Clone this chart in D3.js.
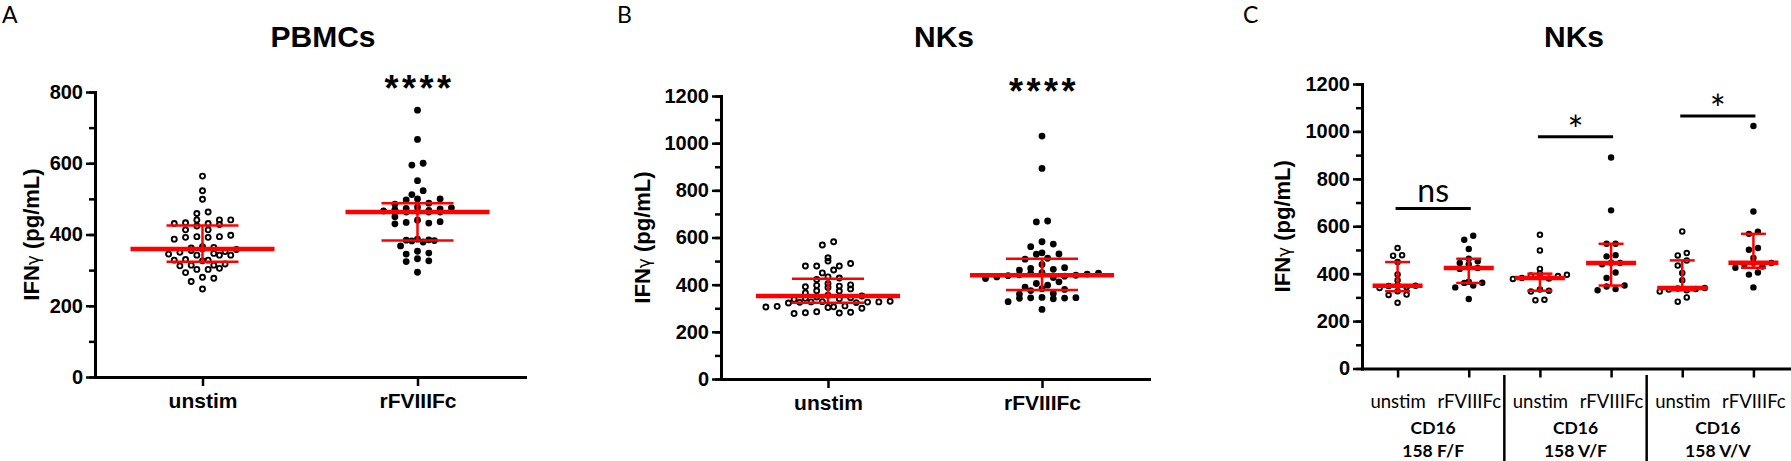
<!DOCTYPE html>
<html><head><meta charset="utf-8">
<script src="https://cdn.jsdelivr.net/npm/d3@7"></script>
<style>body{margin:0;background:#fff}svg{display:block}</style>
</head><body>
<svg id="chart" width="1791" height="461"></svg>
<script>
// ---------------- DATA ----------------
const conditions = ["unstim", "rFVIIIFc"];

// Panel A: PBMCs, IFNγ (pg/mL)
const pbmcUnstim = [564,523,499,463,459,441,441,441,433,431,431,428,424,413,413,398,394,394,392,392,387,366,364,362,360,358,355,352,350,347,345,342,342,342,330,328,328,326,317,314,314,312,305,302,302,293,280,277,268,247];
const pbmcRFVIIIFc = [749,667,600,595,551,523,512,500,500,497,488,485,477,475,473,472,470,468,466,465,463,463,463,450,440,436,434,432,430,387,385,384,383,382,379,368,353,348,345,332,326,324,294];

// Panel B: NKs
const nkUnstim = [582,568,514,500,490,479,479,479,462,450,433,422,428,404,399,397,394,391,388,382,374,373,365,355,352,348,345,342,340,338,330,328,327,327,326,325,324,322,310,308,306,305,303,300,285,283,281,280,278];
const nkRFVIIIFc = [1030,893,670,666,582,572,561,535,530,529,512,508,486,472,469,465,462,451,449,447,445,442,440,438,436,433,430,426,412,405,398,390,383,380,375,363,360,346,345,344,343,342,340,328,295];

// Panel C: NKs by CD16 158 genotype
const cd16Genotypes = ["158 F/F", "158 V/F", "158 V/V"];
const ffUnstim   = [508,478,476,449,396,372,350,349,348,343,340,326,312,310,277];
const ffRFVIIIFc = [560,543,504,463,452,445,440,424,420,366,362,361,350,342,293];
const vfUnstim   = [564,498,420,400,395,392,390,382,380,378,333,328,325,290,288];
const vfRFVIIIFc = [890,667,526,526,478,473,446,445,440,405,382,350,346,335,330];
const vvUnstim   = [578,487,477,456,434,403,372,340,337,335,333,330,325,300,282];
const vvRFVIIIFc = [1023,662,577,568,508,501,466,446,445,440,430,425,405,396,342];

// tick values
const yTicksPBMC = [0,200,400,600,800];
const yTicksNK = [0,200,400,600,800,1000,1200];

// significance annotations
const abStars = "****";
const cd16Sig = [
  {from:0, to:1, value:675, label:"ns"},
  {from:2, to:3, value:977, label:"*"},
  {from:4, to:5, value:1065, label:"*"}
];

// ---------------- HELPERS ----------------
const svg = d3.select("#chart");
const ARIAL = "'Liberation Sans', Arial, Helvetica, sans-serif";
const HUMAN = "Lato, 'Open Sans', sans-serif";
const RED = "#ff0000";

function gpQuantile(values, p) {
  const s = [...values].sort((a,b)=>a-b), n = s.length;
  const pos = (n + 1) * p;
  if (pos <= 1) return s[0];
  if (pos >= n) return s[n-1];
  const lo = Math.floor(pos), f = pos - lo;
  return s[lo-1] + f * (s[lo] - s[lo-1]);
}

function swarm(values, y, thresh, spacing) {
  const s = [...values].sort((a,b)=>a-b);
  const rows = []; let cur = null;
  s.forEach(v => {
    const py = y(v);
    if (!cur || Math.abs(cur.y0 - py) > thresh) { cur = {y0: py, pts: []}; rows.push(cur); }
    cur.pts.push(v);
  });
  const out = [];
  rows.forEach(r => {
    const k = r.pts.length;
    const order = r.pts.map((v,i)=>({v,i})).sort((a,b)=> (a.i%2) - (b.i%2) || a.i - b.i);
    order.forEach((o, j) => out.push({v: o.v, dx: (j - (k-1)/2) * spacing}));
  });
  return out;
}

function drawPanel(cfg) {
  const g = svg.append("g");
  const x = d3.scalePoint().domain(cfg.keys).range([cfg.x0, cfg.x1]).padding(0.5);
  const y = d3.scaleLinear().domain([0, cfg.yMax]).range([cfg.yBottom, cfg.yTop]);

  const minor = g.append("g").attr("transform", `translate(${cfg.x0},0)`)
    .call(d3.axisLeft(y).tickValues(d3.range(0, cfg.yMax + 1, 100)).tickSize(6).tickSizeOuter(0).tickFormat(""));
  minor.select(".domain").remove();
  minor.selectAll("line").attr("stroke-width", 2.5).attr("stroke", "#000");

  const ya = g.append("g").attr("transform", `translate(${cfg.x0},0)`)
    .call(d3.axisLeft(y).tickValues(cfg.yMajor).tickSize(9).tickPadding(3).tickSizeOuter(0)
      .tickFormat(d3.format("d")));
  ya.select(".domain").attr("stroke-width", 3).attr("stroke-linecap", "square");
  ya.selectAll("line").attr("stroke-width", 2.5);
  ya.selectAll("text").attr("font-family", ARIAL).attr("font-weight", "bold")
    .attr("font-size", 20).attr("fill", "#000");

  const xa = g.append("g").attr("transform", `translate(0,${cfg.yBottom})`)
    .call(d3.axisBottom(x).tickSize(9).tickPadding(cfg.xPad).tickSizeOuter(0)
      .tickFormat((d,i) => cfg.tickLabels[i]));
  xa.select(".domain").attr("stroke-width", 3).attr("stroke-linecap", "square");
  xa.selectAll("line").attr("stroke-width", 2.5);
  xa.selectAll("text").attr("font-family", cfg.xFont).attr("font-weight", cfg.xWeight)
    .attr("font-size", cfg.xSize).attr("fill", "#000");
  g.selectAll(".domain").attr("stroke", "#000");

  const yt = g.append("text")
    .attr("transform", `translate(${cfg.x0 - cfg.yTitleOff},${(cfg.yTop + cfg.yBottom)/2}) rotate(-90)`)
    .attr("text-anchor", "middle").attr("dy", "0.36em")
    .attr("font-family", ARIAL).attr("font-weight", "bold").attr("font-size", 22);
  yt.append("tspan").text("IFN");
  yt.append("tspan").text("γ").attr("font-weight", "normal").attr("font-family", "'DejaVu Sans', sans-serif").attr("font-size", 17);
  yt.append("tspan").text(" (pg/mL)");

  g.append("text").attr("x", cfg.titleX).attr("y", 47).attr("text-anchor", "middle")
    .attr("font-family", ARIAL).attr("font-weight", "bold").attr("font-size", 30).text(cfg.title);
  g.append("text").attr("x", cfg.letterX).attr("y", 23)
    .attr("font-family", HUMAN).attr("font-size", 23).text(cfg.letter);

  cfg.series.forEach((vals, i) => {
    const cx = x(cfg.keys[i]);
    const pts = swarm(vals, y, cfg.thresh, cfg.spacing);
    const open = cfg.open[i];
    g.append("g").selectAll("circle").data(pts).join("circle")
      .attr("cx", d => cx + d.dx).attr("cy", d => y(d.v))
      .attr("r", open ? cfg.r - 0.9 : cfg.r)
      .attr("fill", open ? "none" : "#000")
      .attr("stroke", open ? "#000" : "none")
      .attr("stroke-width", open ? 1.9 : 0);
  });

  cfg.series.forEach((vals, i) => {
    const cx = x(cfg.keys[i]);
    const med = d3.median(vals), q1 = gpQuantile(vals, 0.25), q3 = gpQuantile(vals, 0.75);
    const eb = g.append("g").attr("stroke", RED);
    eb.append("line").attr("x1", cx).attr("x2", cx).attr("y1", y(q1)).attr("y2", y(q3)).attr("stroke-width", 2.5);
    eb.append("line").attr("x1", cx - cfg.qHalf).attr("x2", cx + cfg.qHalf).attr("y1", y(q1)).attr("y2", y(q1)).attr("stroke-width", 2.5);
    eb.append("line").attr("x1", cx - cfg.qHalf).attr("x2", cx + cfg.qHalf).attr("y1", y(q3)).attr("y2", y(q3)).attr("stroke-width", 2.5);
    eb.append("line").attr("x1", cx - cfg.mHalf).attr("x2", cx + cfg.mHalf).attr("y1", y(med)).attr("y2", y(med)).attr("stroke-width", 4.5);
  });

  return {g, x, y};
}

function addStars(P, cy) {
  P.g.append("text").attr("x", P.x(conditions[1]) + 2).attr("y", cy + 0.57*36)
    .attr("text-anchor", "middle").attr("font-family", ARIAL).attr("font-weight", "bold")
    .attr("font-size", 36).attr("letter-spacing", 3.5).text(abStars);
}

// ---------------- PANEL A ----------------
const A = drawPanel({
  letter: "A", letterX: 2, title: "PBMCs", titleX: 323,
  keys: conditions, tickLabels: conditions,
  series: [pbmcUnstim, pbmcRFVIIIFc], open: [true, false],
  x0: 95, x1: 525, yTop: 92, yBottom: 377, yMax: 800, yMajor: yTicksPBMC,
  xFont: ARIAL, xWeight: "bold", xSize: 21, xPad: 7,
  yTitleOff: 64, thresh: 5.5, spacing: 11.3, r: 3.4, mHalf: 72, qHalf: 36
});
addStars(A, 80);

// ---------------- PANEL B ----------------
const B = drawPanel({
  letter: "B", letterX: 617, title: "NKs", titleX: 944,
  keys: conditions, tickLabels: conditions,
  series: [nkUnstim, nkRFVIIIFc], open: [true, false],
  x0: 721, x1: 1149, yTop: 96, yBottom: 379, yMax: 1200, yMajor: yTicksNK,
  xFont: ARIAL, xWeight: "bold", xSize: 21, xPad: 7,
  yTitleOff: 79, thresh: 6, spacing: 11.3, r: 3.4, mHalf: 72, qHalf: 36
});
addStars(B, 83);

// ---------------- PANEL C ----------------
const cKeys = cd16Genotypes.flatMap(gt => conditions.map(c => gt + "|" + c));
const cLabels = cd16Genotypes.flatMap(() => conditions);
const C = drawPanel({
  letter: "C", letterX: 1243, title: "NKs", titleX: 1574,
  keys: cKeys, tickLabels: cLabels,
  series: [ffUnstim, ffRFVIIIFc, vfUnstim, vfRFVIIIFc, vvUnstim, vvRFVIIIFc],
  open: [true, false, true, false, true, false],
  x0: 1362, x1: 1789, yTop: 84, yBottom: 368.5, yMax: 1200, yMajor: yTicksNK,
  xFont: HUMAN, xWeight: "normal", xSize: 18.5, xPad: 17,
  yTitleOff: 80, thresh: 5.5, spacing: 9, r: 3.2, mHalf: 25, qHalf: 12.5
});
cd16Genotypes.forEach((gt, j) => {
  const cx = (C.x(cKeys[2*j]) + C.x(cKeys[2*j+1])) / 2;
  C.g.append("text").attr("x", cx).attr("y", 434).attr("text-anchor", "middle")
    .attr("font-family", HUMAN).attr("font-weight", "bold").attr("font-size", 17.5).text("CD16");
  C.g.append("text").attr("x", cx).attr("y", 457).attr("text-anchor", "middle")
    .attr("font-family", HUMAN).attr("font-weight", "bold").attr("font-size", 17.5).text(gt);
  if (j < cd16Genotypes.length - 1) {
    const xm = (C.x(cKeys[2*j+1]) + C.x(cKeys[2*j+2])) / 2;
    C.g.append("line").attr("x1", xm).attr("x2", xm).attr("y1", 375).attr("y2", 461)
      .attr("stroke", "#000").attr("stroke-width", 2.5);
  }
});
cd16Sig.forEach(s => {
  const x1 = C.x(cKeys[s.from]), x2 = C.x(cKeys[s.to]), yy = C.y(s.value);
  C.g.append("line").attr("x1", x1 - 2).attr("x2", x2 + 2).attr("y1", yy).attr("y2", yy)
    .attr("stroke", "#000").attr("stroke-width", 3);
  const t = C.g.append("text").attr("x", (x1 + x2) / 2).attr("text-anchor", "middle")
    .attr("font-family", HUMAN).text(s.label);
  if (s.label === "ns") t.attr("y", yy - 6).attr("font-size", 32);
  else t.attr("y", yy - 14 + 0.56*38).attr("font-size", 38);
});
</script>
</body></html>
